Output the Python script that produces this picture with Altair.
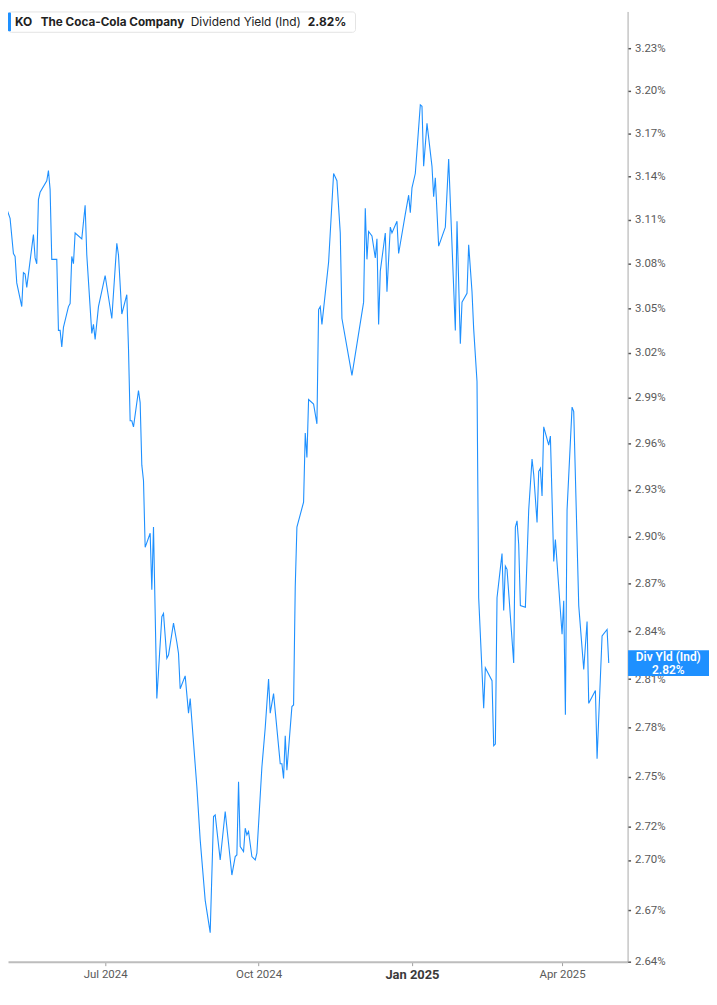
import altair as alt
import pandas as pd

# ---------------- data ----------------
dates = [
    "2024-04-29", "2024-05-01", "2024-05-02", "2024-05-05", "2024-05-07", "2024-05-08", "2024-05-09",
    "2024-05-12", "2024-05-13", "2024-05-14", "2024-05-15", "2024-05-19", "2024-05-20", "2024-05-21",
    "2024-05-22", "2024-05-23", "2024-05-27", "2024-05-28", "2024-05-29", "2024-05-30",
    "2024-06-02", "2024-06-03", "2024-06-04", "2024-06-05", "2024-06-06", "2024-06-09", "2024-06-10",
    "2024-06-11", "2024-06-12", "2024-06-13", "2024-06-17", "2024-06-19", "2024-06-20", "2024-06-23",
    "2024-06-24", "2024-06-25", "2024-06-27",
    "2024-07-01", "2024-07-05", "2024-07-08", "2024-07-09", "2024-07-11", "2024-07-14", "2024-07-15",
    "2024-07-16", "2024-07-17", "2024-07-18", "2024-07-21", "2024-07-22", "2024-07-23", "2024-07-24",
    "2024-07-25", "2024-07-28", "2024-07-29", "2024-07-30",
    "2024-08-01", "2024-08-04", "2024-08-05", "2024-08-07", "2024-08-08", "2024-08-11", "2024-08-13",
    "2024-08-14", "2024-08-15", "2024-08-18", "2024-08-20", "2024-08-21", "2024-08-25", "2024-08-27",
    "2024-08-30",
    "2024-09-02", "2024-09-04", "2024-09-05", "2024-09-08", "2024-09-11", "2024-09-15", "2024-09-17",
    "2024-09-18", "2024-09-19", "2024-09-20", "2024-09-22", "2024-09-23", "2024-09-24", "2024-09-25",
    "2024-09-27", "2024-09-29", "2024-09-30",
    "2024-10-03", "2024-10-05", "2024-10-07", "2024-10-08", "2024-10-10", "2024-10-14", "2024-10-15",
    "2024-10-16", "2024-10-17", "2024-10-18", "2024-10-21", "2024-10-22", "2024-10-23", "2024-10-24",
    "2024-10-28", "2024-10-29", "2024-10-30", "2024-10-31",
    "2024-11-03", "2024-11-05", "2024-11-06", "2024-11-07", "2024-11-08", "2024-11-12", "2024-11-15",
    "2024-11-17", "2024-11-19", "2024-11-20", "2024-11-26",
    "2024-12-03", "2024-12-04", "2024-12-05", "2024-12-06", "2024-12-08", "2024-12-10", "2024-12-11",
    "2024-12-12", "2024-12-13", "2024-12-16", "2024-12-17", "2024-12-19", "2024-12-20", "2024-12-23",
    "2024-12-24", "2024-12-28", "2024-12-30", "2024-12-31",
    "2025-01-01", "2025-01-03", "2025-01-06", "2025-01-07", "2025-01-08", "2025-01-10", "2025-01-13",
    "2025-01-14", "2025-01-15", "2025-01-17", "2025-01-21", "2025-01-23", "2025-01-27", "2025-01-28",
    "2025-01-30", "2025-01-31",
    "2025-02-03", "2025-02-04", "2025-02-06", "2025-02-07", "2025-02-09", "2025-02-10", "2025-02-13",
    "2025-02-14", "2025-02-18", "2025-02-19", "2025-02-20", "2025-02-21", "2025-02-24", "2025-02-25",
    "2025-02-26", "2025-02-27",
    "2025-03-03", "2025-03-04", "2025-03-05", "2025-03-06", "2025-03-07", "2025-03-10", "2025-03-12",
    "2025-03-14", "2025-03-15", "2025-03-17", "2025-03-18", "2025-03-19", "2025-03-20", "2025-03-21",
    "2025-03-24", "2025-03-25", "2025-03-27", "2025-03-28",
    "2025-04-01", "2025-04-02", "2025-04-03", "2025-04-04", "2025-04-07", "2025-04-08", "2025-04-11",
    "2025-04-14", "2025-04-16", "2025-04-17", "2025-04-21", "2025-04-22", "2025-04-25", "2025-04-28",
    "2025-04-29",
]

yields = [
    3.140, 3.131, 3.121, 3.111, 3.087, 3.085, 3.067, 3.051, 3.074, 3.073, 3.064, 3.100, 3.084, 3.080,
    3.124, 3.129, 3.137, 3.144, 3.131, 3.083,
    3.083, 3.035, 3.035, 3.024, 3.037, 3.051, 3.053, 3.085, 3.080, 3.101, 3.097, 3.120, 3.086, 3.033,
    3.039, 3.029, 3.051,
    3.072, 3.043, 3.094, 3.086, 3.046, 3.059, 3.023, 2.975, 2.975, 2.971, 2.995, 2.987, 2.946, 2.936,
    2.893, 2.902, 2.866, 2.906,
    2.798, 2.849, 2.851, 2.823, 2.825, 2.845, 2.833, 2.826, 2.804, 2.812, 2.789, 2.798, 2.744, 2.712,
    2.676,
    2.657, 2.726, 2.727, 2.700, 2.729, 2.691, 2.702, 2.703, 2.747, 2.708, 2.705, 2.719, 2.715, 2.717,
    2.702, 2.700, 2.704,
    2.756, 2.780, 2.810, 2.789, 2.801, 2.758, 2.758, 2.749, 2.775, 2.754, 2.793, 2.794, 2.868, 2.906,
    2.922, 2.967, 2.951, 2.989,
    2.986, 2.973, 3.049, 3.051, 3.039, 3.081, 3.142, 3.137, 3.101, 3.043, 3.005,
    3.054, 3.118, 3.083, 3.102, 3.099, 3.084, 3.097, 3.039, 3.075, 3.101, 3.061, 3.105, 3.101, 3.109,
    3.087, 3.114, 3.127, 3.115,
    3.132, 3.142, 3.190, 3.189, 3.147, 3.177, 3.147, 3.126, 3.139, 3.092, 3.105, 3.152, 3.035, 3.109,
    3.026, 3.054,
    3.060, 3.093, 3.061, 3.036, 3.001, 2.861, 2.792, 2.817, 2.809, 2.769, 2.770, 2.861, 2.889, 2.853,
    2.881, 2.879,
    2.820, 2.906, 2.910, 2.895, 2.856, 2.855, 2.917, 2.950, 2.940, 2.909, 2.942, 2.944, 2.926, 2.971,
    2.959, 2.965, 2.884, 2.898,
    2.838, 2.859, 2.788, 2.917, 2.984, 2.981, 2.856, 2.816, 2.846, 2.795, 2.803, 2.761, 2.837, 2.841,
    2.820,
]

y_ticks = [3.23, 3.20, 3.17, 3.14, 3.11, 3.08, 3.05, 3.02, 2.99, 2.96, 2.93, 2.90, 2.87,
           2.84, 2.81, 2.78, 2.75, 2.72, 2.70, 2.67, 2.64]
x_ticks = ["2024-07-01", "2024-10-01", "2025-01-01", "2025-04-01"]

ticker = "KO"
company = "The Coca-Cola Company"
metric = "Dividend Yield (Ind)"
tag_title = "Div Yld (Ind)"

# ---------------- build ----------------
BLUE = "#1e90ff"
df = pd.DataFrame({"date": dates, "yield": yields})
last_val = yields[-1]
value_text = f"{last_val:.2f}%"
last_df = pd.DataFrame({"date": [dates[-1]], "yield": [last_val], "title": [tag_title], "vt": [value_text]})
legend_df = pd.DataFrame({"ticker": [ticker], "company": [company], "metric": [metric], "vt": [value_text]})


def dt(s):
    t = pd.Timestamp(s)
    return alt.DateTime(year=t.year, month=t.month, date=t.day, hours=t.hour, minutes=t.minute, utc=True)


x_scale = alt.Scale(type="utc", domain=[dt("2024-05-03T18:00"), dt("2025-05-10T07:00")], nice=False)
y_scale = alt.Scale(type="log", domain=[2.64, 3.2565], nice=False, zero=False)

is_jan = "utcmonth(datum.value) == 0"
x_axis = alt.Axis(values=[dt(v) for v in x_ticks], format="%b %Y", grid=False,
                  domainColor="#bdbdbd", domainWidth=2, tickColor="#a0a0a0", tickSize=4,
                  tickWidth=1, labelPadding=3, labelFont="Roboto",
                  labelColor={"condition": {"test": is_jan, "value": "#3a3a3a"}, "value": "#5a5a5a"},
                  labelFontSize={"condition": {"test": is_jan, "value": 13}, "value": 11.5},
                  labelFontWeight={"condition": {"test": is_jan, "value": 700}, "value": 400})
y_axis = alt.Axis(orient="right", values=y_ticks, grid=False,
                  labelExpr="format(datum.value, '.2f') + '%'",
                  domainColor="#a8a8a8", domainWidth=1, tickColor="#555555",
                  tickSize=3, tickWidth=1.5, labelPadding=4, labelFont="Roboto",
                  labelFontSize=11.5, labelColor="#5a5a5a")

Y = alt.Y("yield:Q", scale=y_scale, title=None, axis=y_axis)

line = alt.Chart(df).mark_line(color=BLUE, strokeWidth=1.1, clip=True).encode(
    x=alt.X("date:T", scale=x_scale, title=None, axis=x_axis),
    y=Y,
)

box = alt.Chart(legend_df).mark_rect(fill="white", stroke="#e4e4e4", strokeWidth=1, cornerRadius=3).encode(
    x=alt.value(0.5), x2=alt.value(350), y=alt.value(0.5), y2=alt.value(21))
bar = alt.Chart(legend_df).mark_rect(fill=BLUE, cornerRadius=1).encode(
    x=alt.value(0), x2=alt.value(3), y=alt.value(1), y2=alt.value(20))

tstyle = dict(font="Inter", align="left", baseline="middle", color="#222222")
t_ticker = alt.Chart(legend_df).mark_text(fontWeight=700, fontSize=12, **tstyle).encode(
    x=alt.value(7), y=alt.value(10.5), text="ticker:N")
t_company = alt.Chart(legend_df).mark_text(fontWeight=700, fontSize=11.8, **tstyle).encode(
    x=alt.value(33), y=alt.value(10.5), text="company:N")
t_metric = alt.Chart(legend_df).mark_text(fontWeight=400, fontSize=12, **tstyle).encode(
    x=alt.value(184), y=alt.value(10.5), text="metric:N")
t_value = alt.Chart(legend_df).mark_text(fontWeight=700, fontSize=12, **tstyle).encode(
    x=alt.value(302), y=alt.value(10.5), text="vt:N")

tag = alt.Chart(last_df).mark_rect(fill=BLUE, yOffset=-13, y2Offset=13).encode(
    x=alt.value(624.5), x2=alt.value(706), y=Y, y2=alt.Y2("yield"))
tag_t1 = alt.Chart(last_df).mark_text(font="Roboto", fontSize=12, fontWeight=600, color="white",
                                      align="center", baseline="middle", dy=-6).encode(
    x=alt.value(665), y=Y, text="title:N")
tag_t2 = alt.Chart(last_df).mark_text(font="Roboto", fontSize=12, fontWeight=600, color="white",
                                      align="center", baseline="middle", dy=7).encode(
    x=alt.value(665), y=Y, text="vt:N")

chart = alt.layer(line, box, bar, t_ticker, t_company, t_metric, t_value, tag, tag_t1, tag_t2).properties(
    width=624, height=957, padding=0, background="white"
).configure_view(stroke=None)

chart.save("out.html", embed_options={"renderer": "svg", "actions": False})
